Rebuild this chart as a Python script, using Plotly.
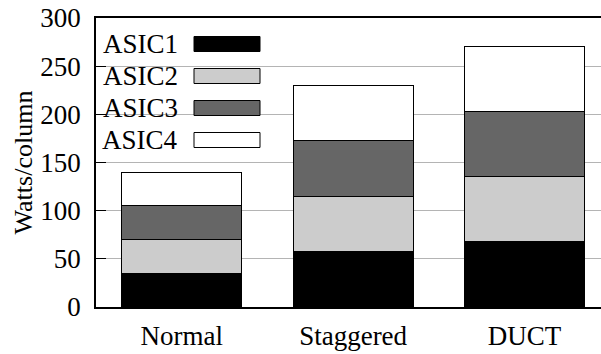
import plotly.graph_objects as go

categories = ["Normal", "Staggered", "DUCT"]
series_names = ["ASIC1", "ASIC2", "ASIC3", "ASIC4"]
asic1 = [35, 57.5, 67.5]
asic2 = [35, 57.5, 67.5]
asic3 = [35, 57.5, 67.5]
asic4 = [35, 57.5, 67.5]
colors = ["#000000", "#cccccc", "#666666", "#ffffff"]
y_ticks = [0, 50, 100, 150, 200, 250, 300]

FONT = "Times New Roman"

fig = go.Figure()
for name, vals, col in zip(series_names, [asic1, asic2, asic3, asic4], colors):
    fig.add_trace(go.Bar(
        x=categories, y=vals, name=name, width=0.70,
        marker=dict(color=col, line=dict(color="#000000", width=1)),
        showlegend=False,
    ))

# legend background (covers gridlines, below ticks)
fig.add_shape(type="rect", xref="paper", yref="paper",
              x0=0.0, x1=(274 - 96) / 505, y0=(307 - 156) / 289, y1=(307 - 20) / 289,
              fillcolor="white", line=dict(width=0), layer="between")

row_y = [44, 76, 108, 140]
for name, col, ry in zip(series_names, colors, row_y):
    yc = (307 - ry) / 289
    fig.add_annotation(xref="paper", yref="paper", x=(180 - 96) / 505, y=yc,
                       text=name, showarrow=False, xanchor="right", yanchor="middle",
                       font=dict(family=FONT, size=27, color="black"))
    fig.add_shape(type="rect", xref="paper", yref="paper",
                  x0=(194 - 96) / 505, x1=(260 - 96) / 505,
                  y0=yc - 7.5 / 289, y1=yc + 7.5 / 289,
                  fillcolor=col, line=dict(color="#000000", width=1), layer="above")

fig.update_layout(
    width=601, height=354,
    margin=dict(l=96, r=0, t=18, b=47),
    barmode="stack",
    plot_bgcolor="white", paper_bgcolor="white",
    font=dict(family=FONT, size=27, color="black"),
    xaxis=dict(range=[-0.5, 2.446], showline=True, linecolor="black", linewidth=1.5,
               mirror=True, ticks="", showgrid=False, automargin=False,
               ticklabelstandoff=4,
               tickfont=dict(family=FONT, size=27, color="black")),
    yaxis=dict(range=[0, 300], tickvals=y_ticks, showline=True, linecolor="black",
               linewidth=1.5, ticks="inside", ticklen=10, tickcolor="black",
               showgrid=True, gridcolor="#b4b4b4", gridwidth=1, automargin=False,
               ticklabelstandoff=8,
               tickfont=dict(family=FONT, size=27, color="black"),
               title=dict(text="Watts/column", font=dict(family=FONT, size=26, color="black"),
                          standoff=0)),
)

fig.write_html("out.html", config={"displayModeBar": False},
               post_script="document.body.style.margin='0';document.body.style.overflow='hidden';")
